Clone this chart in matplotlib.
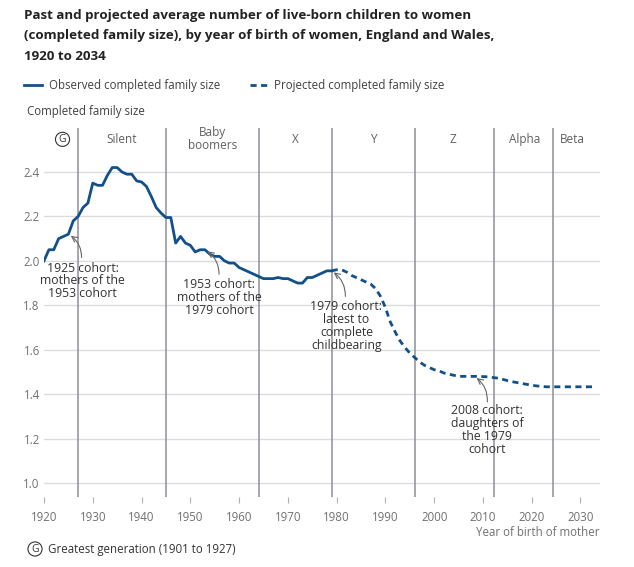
import matplotlib
matplotlib.use("Agg")
import matplotlib.pyplot as plt
import numpy as np

plt.rcParams['font.family'] = ['Open Sans', 'DejaVu Sans']

# observed completed family size, 1920-1979
obs_years = list(range(1920, 1980))
obs_cfs = [2.00, 2.05, 2.05, 2.10, 2.11, 2.12, 2.18, 2.20, 2.24, 2.26,
           2.35, 2.34, 2.34, 2.385, 2.42, 2.42, 2.40, 2.39, 2.39, 2.36,
           2.355, 2.335, 2.29, 2.24, 2.215, 2.195, 2.195, 2.08, 2.11, 2.08,
           2.07, 2.04, 2.05, 2.05, 2.03, 2.02, 2.02, 2.00, 1.99, 1.99,
           1.97, 1.96, 1.95, 1.94, 1.93, 1.92, 1.92, 1.92, 1.925, 1.92,
           1.92, 1.91, 1.90, 1.90, 1.925, 1.925, 1.935, 1.945, 1.955, 1.955]

# projected completed family size, 1979-2033
proj_years = list(range(1979, 2034))
proj_cfs = [1.955, 1.96, 1.96, 1.95, 1.935, 1.925, 1.915, 1.905, 1.895, 1.875,
            1.84, 1.79, 1.725, 1.68, 1.64, 1.61, 1.585, 1.565, 1.545, 1.53,
            1.52, 1.51, 1.505, 1.495, 1.49, 1.485, 1.48, 1.48, 1.48, 1.48,
            1.48, 1.479, 1.478, 1.475, 1.472, 1.467, 1.461, 1.456, 1.452, 1.448,
            1.444, 1.44, 1.437, 1.435, 1.433, 1.433, 1.433, 1.433, 1.433, 1.433,
            1.433, 1.433, 1.433, 1.433, 1.433]

# generation boundaries and labels
gen_bounds = [1927, 1945, 1964, 1979, 1996, 2012.3, 2024.3]
gen_labels = ['Silent', 'Baby\nboomers', 'X', 'Y', 'Z', 'Alpha', 'Beta']
gen_label_x = [1936, 1954.6, 1971.5, 1987.6, 2003.9, 2018.6, 2028.3]

# annotations: text, text position, arrow tail, arrow head
notes = ['1925 cohort:\nmothers of the\n1953 cohort',
         '1953 cohort:\nmothers of the\n1979 cohort',
         '1979 cohort:\nlatest to\ncomplete\nchildbearing',
         '2008 cohort:\ndaughters of\nthe 1979\ncohort']
note_xy = [(1927.9, 1.91), (1955.9, 1.834), (1982.0, 1.706), (2010.9, 1.239)]
arrow_tail = [(1927.7, 2.015), (1955.9, 1.94), (1981.8, 1.84), (2010.9, 1.365)]
arrow_head = [(1925.5, 2.113), (1953.5, 2.043), (1979.4, 1.948), (2008.7, 1.473)]

blue = '#12508a'
grey_txt = '#707070'
dark = '#333333'

fig = plt.figure(figsize=(6.34, 5.67), dpi=100)
ax = fig.add_axes([44/634, 1-497/567, (600-44)/634, (497-128)/567])

ax.plot(obs_years, obs_cfs, color=blue, lw=2.0, solid_joinstyle='round',
        label='Observed completed family size', zorder=4)
ax.plot(proj_years, proj_cfs, color=blue, lw=2.0, dashes=(2.2, 1.6),
        label='Projected completed family size', zorder=4)

ax.set_xlim(1920, 2034)
ax.set_ylim(0.937, 2.598)
ax.set_xticks(np.arange(1920, 2031, 10))
ax.set_yticks(np.arange(1.0, 2.41, 0.2))
ax.set_yticklabels(['{:.1f}'.format(v) for v in np.arange(1.0, 2.41, 0.2)])
ax.grid(axis='y', color='#dcdcdc', lw=1.0)
ax.set_axisbelow(True)
for s in ax.spines.values():
    s.set_visible(False)
ax.tick_params(axis='x', length=4, width=0.8, color='#b0b0b0', labelsize=8.3,
               labelcolor=grey_txt, pad=6)
ax.tick_params(axis='y', length=0, labelsize=8.3, labelcolor=grey_txt, pad=3)

for b in gen_bounds:
    ax.axvline(b, color='#8c9199', lw=1.1, zorder=2)
for x, lab in zip(gen_label_x, gen_labels):
    ax.text(x, 2.547, lab, ha='center', va='center', fontsize=8.5,
            color='#606060', linespacing=1.0)
ax.text(1923.8, 2.547, 'G', ha='center', va='center', fontsize=7.5, color=dark,
        bbox=dict(boxstyle='circle,pad=0.15', fc='white', ec=dark, lw=0.8))

for txt, (tx, ty), tail, head in zip(notes, note_xy, arrow_tail, arrow_head):
    ax.text(tx, ty, txt, ha='center', va='center', fontsize=8.8, color=dark,
            linespacing=0.98, zorder=5)
    ax.annotate('', xy=head, xytext=tail,
                arrowprops=dict(arrowstyle='->', color='#666666', lw=0.8,
                                connectionstyle='arc3,rad=0.25',
                                shrinkA=0, shrinkB=0), zorder=5)

fig.text(24/634, 1-9/567,
         'Past and projected average number of live-born children to women\n'
         '(completed family size), by year of birth of women, England and Wales,\n'
         '1920 to 2034', ha='left', va='top', fontsize=9.6, fontweight='bold',
         color='#222222', linespacing=1.75)

fig.legend(loc='center left', bbox_to_anchor=(14/634, 1-86/567), ncol=2,
           frameon=False, fontsize=8.3, handlelength=1.5, handletextpad=0.6,
           columnspacing=2.6, labelcolor='#414042')

fig.text(27/634, 1-111/567, 'Completed family size', ha='left', va='center',
         fontsize=8.3, color='#414042')
fig.text(600/634, 1-532/567, 'Year of birth of mother', ha='right',
         va='center', fontsize=8.3, color=grey_txt)
fig.text(35/634, 1-549/567, 'G', ha='center', va='center', fontsize=7.5,
         color=dark,
         bbox=dict(boxstyle='circle,pad=0.15', fc='white', ec=dark, lw=0.8))
fig.text(48/634, 1-549/567, 'Greatest generation (1901 to 1927)', ha='left',
         va='center', fontsize=8.3, color=dark)

fig.savefig('out.png', dpi=100, facecolor='white')
